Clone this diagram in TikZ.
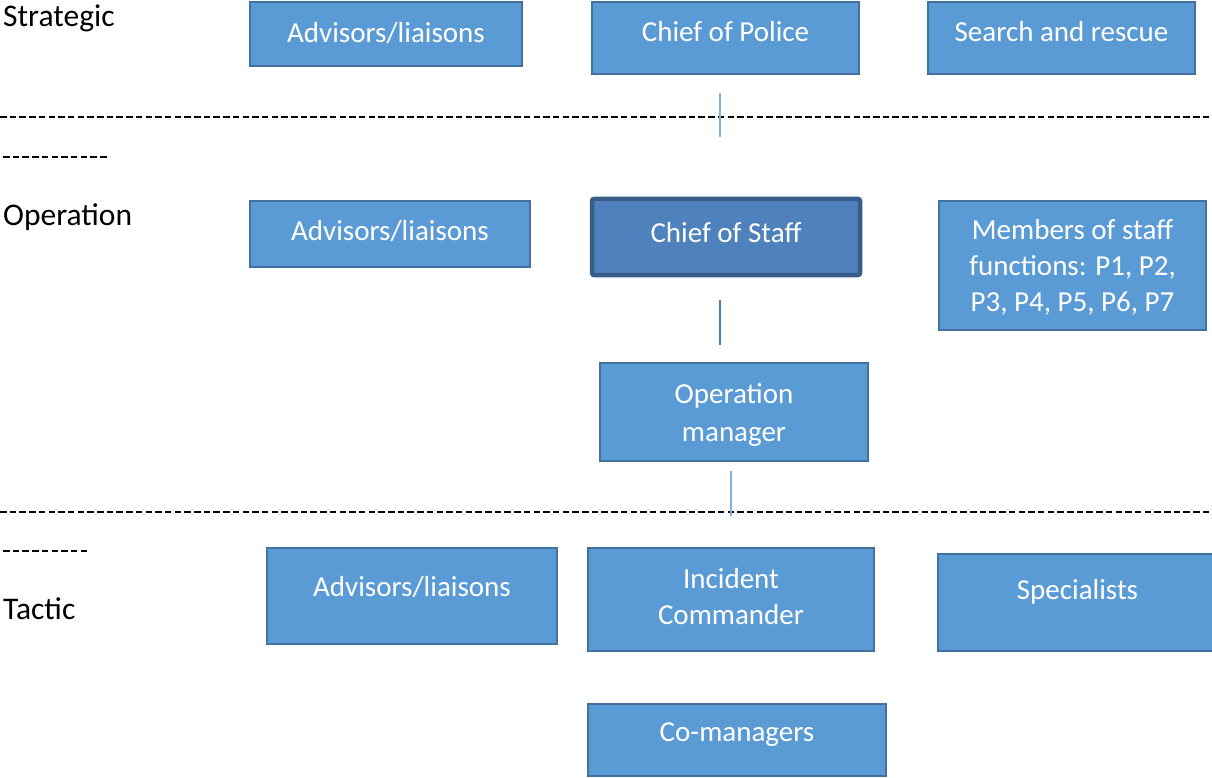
\documentclass[tikz,border=0pt]{standalone}
\usepackage{fontspec}
\setmainfont{Carlito}
\definecolor{boxfill}{HTML}{5B9BD5}
\definecolor{boxedge}{HTML}{41719C}
\definecolor{keyfill}{HTML}{4F81BD}
\definecolor{keyedge}{HTML}{385D8A}
\definecolor{linklight}{HTML}{7FB2E0}
\definecolor{linkdark}{HTML}{4A7EBB}
\begin{document}
\begin{tikzpicture}[x=1pt,y=-1pt,
  unit/.style={draw=boxedge, fill=boxfill, line width=2.2pt, anchor=north west,
    inner sep=0pt, outer sep=0pt},
  keyunit/.style={draw=keyedge, fill=keyfill, line width=4.5pt, rounded corners=2pt,
    anchor=north west, inner sep=0pt, outer sep=0pt},
  caption/.style={text=white, align=center, inner sep=0pt,
    font=\fontsize{29}{36}\selectfont},
  tallcaption/.style={caption, font=\fontsize{29}{38}\selectfont},
  level/.style={anchor=west, inner sep=0pt, font=\fontsize{31.5}{38}\selectfont},
  divider/.style={black, line width=2.5pt, dash pattern=on 6.5pt off 3.2pt},
  lightlink/.style={linklight, line width=1.6pt},
  darklink/.style={linkdark, line width=2.4pt}]
\useasboundingbox (0,0) rectangle (1212,778);

% level names
\node[level] (lvS) at (3,18) {Strategic};
\node[level] (lvO) at (3,217) {Operation};
\node[level] (lvT) at (3,609) {Tactic};

% dividers between levels
\coordinate (d1a) at (0,117);   \coordinate (d1b) at (1212,117);
\coordinate (d1c) at (3,157);   \coordinate (d1d) at (108,157);
\coordinate (d2a) at (0,512);   \coordinate (d2b) at (1212,512);
\coordinate (d2c) at (3,551);   \coordinate (d2d) at (89,551);
\draw[divider] (d1a) -- (d1b);
\draw[divider] (d1c) -- (d1d);
\draw[divider] (d2a) -- (d2b);
\draw[divider] (d2c) -- (d2d);

% strategic level
\node[unit, minimum width=272, minimum height=64] (sAdv) at (250,2) {};
\node[caption] (tsAdv) at (386,33) {Advisors/liaisons};
\node[unit, minimum width=267, minimum height=72] (cop) at (592,2) {};
\node[caption] (tcop) at (725.5,32) {Chief of Police};
\node[unit, minimum width=267, minimum height=72] (sar) at (928,2) {};
\node[caption] (tsar) at (1061.5,32) {Search and rescue};

% operation level
\node[unit, minimum width=280, minimum height=66] (oAdv) at (250,201) {};
\node[caption] (toAdv) at (390,231) {Advisors/liaisons};
\node[keyunit, minimum width=268, minimum height=76] (cos) at (592,199) {};
\node[caption] (tcos) at (726,233) {Chief of Staff};
\node[unit, minimum width=267, minimum height=129] (staff) at (939,201) {};
\node[caption] (tstaff) at (1072.5,267) {Members of staff\\functions: P1, P2,\\P3, P4, P5, P6, P7};
\node[unit, minimum width=268, minimum height=98] (opm) at (600,363) {};
\node[tallcaption] (topm) at (734,415) {Operation\\manager};

% tactic level
\node[unit, minimum width=290, minimum height=96] (tAdv) at (267,548) {};
\node[caption] (ttAdv) at (412,587) {Advisors/liaisons};
\node[unit, minimum width=286, minimum height=103] (ic) at (588,548) {};
\node[caption] (tic) at (731,597) {Incident\\Commander};
\node[unit, minimum width=280, minimum height=97] (spec) at (938,554) {};
\node[caption] (tspec) at (1077.5,592) {Specialists};
\node[unit, minimum width=298, minimum height=72] (coman) at (588,704) {};
\node[caption] (tcoman) at (737,735) {Co-managers};

% short vertical links
\coordinate (l1a) at (720,93);  \coordinate (l1b) at (720,137);
\coordinate (l2a) at (720,300); \coordinate (l2b) at (720,345);
\coordinate (l3a) at (731,471); \coordinate (l3b) at (731,516);
\draw[lightlink] (l1a) -- (l1b);
\draw[darklink] (l2a) -- (l2b);
\draw[lightlink] (l3a) -- (l3b);
\end{tikzpicture}
\end{document}
